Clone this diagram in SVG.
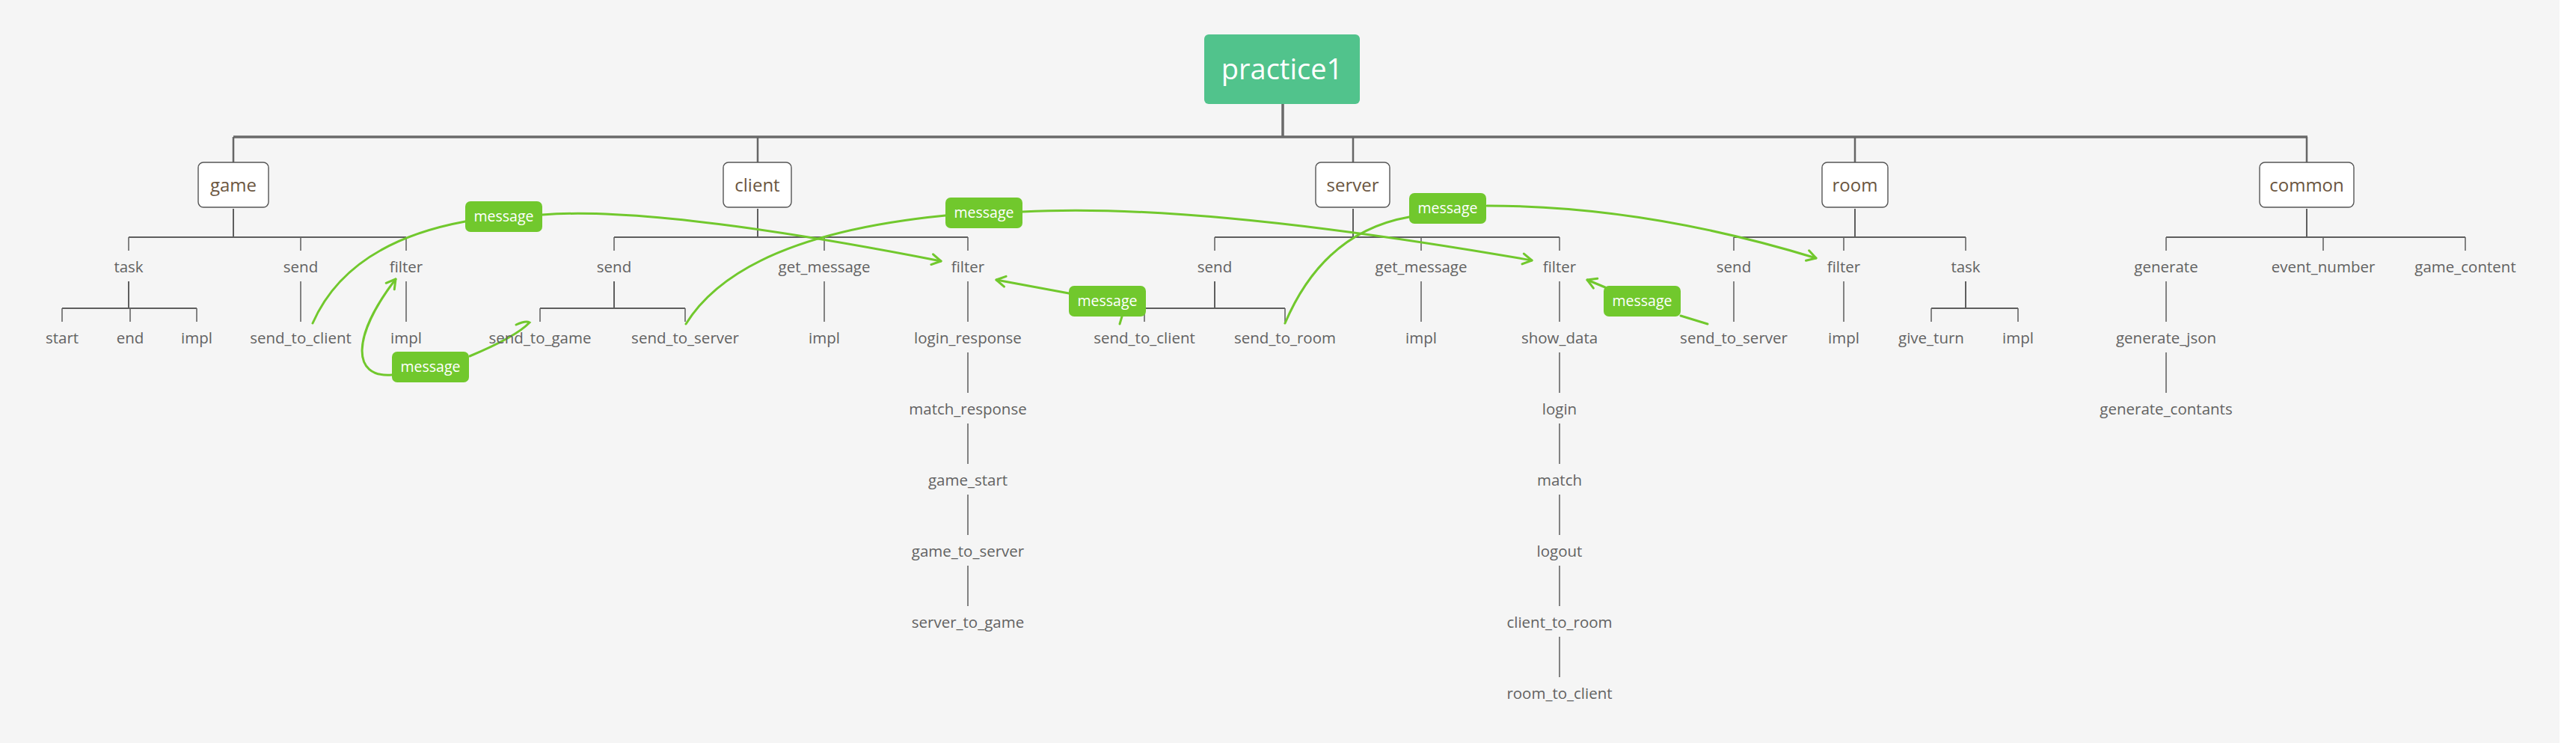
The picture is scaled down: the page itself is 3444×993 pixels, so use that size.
<svg xmlns="http://www.w3.org/2000/svg" width="3444" height="993" viewBox="0 0 3444 993">
<style>
.bg{fill:#f5f5f5}
.root{fill:#51c38c}
.rootT{font-family:"Open Sans","Noto Sans",sans-serif;font-size:38px;fill:#ffffff;text-anchor:middle}
.box{fill:#ffffff;stroke:#555555;stroke-width:1.4}
.boxT{font-family:"Open Sans","Noto Sans",sans-serif;font-size:24px;fill:#6b5641;text-anchor:middle}
.leaf{font-family:"Open Sans","Noto Sans",sans-serif;font-size:20.5px;fill:#626262;text-anchor:middle}
.t0{fill:none;stroke:#6a6a6a;stroke-width:3.5}
.t1{fill:none;stroke:#666666;stroke-width:2.5}
.t2{fill:none;stroke:#5e5e5e;stroke-width:2}
.t3{fill:none;stroke:#666666;stroke-width:1.6}
.rel{fill:none;stroke:#71c82d;stroke-width:3;stroke-linecap:round}
.lbl{fill:#71c82d}
.lblT{font-family:"Open Sans","Noto Sans",sans-serif;font-size:19.5px;fill:#ffffff;text-anchor:middle}
</style>
<defs>
<marker id="arr" markerUnits="userSpaceOnUse" viewBox="0 0 18 18" markerWidth="18" markerHeight="18" refX="14" refY="9" orient="auto">
<path d="M2,2 L14,9 L2,16" fill="none" stroke="#71c82d" stroke-width="3" stroke-linecap="round" stroke-linejoin="round"/>
</marker>
</defs>
<rect x="0" y="0" width="3444" height="993" fill="#ffffff"/>
<rect class="bg" x="0" y="0" width="3422" height="993"/>

<g id="connectors">
<path class="t0" d="M312 183 H3085 M1715 139 V183"/>
<path class="t1" d="M312 183 V217 M1013 183 V217 M1809 183 V217 M2480 183 V217 M3084 183 V217"/>
<path class="t2" d="M312 279 V317 M1013 279 V317 M1809 279 V317 M2480 279 V317 M3084 279 V317"/>
<path class="t2" d="M172 317 H543 M821 317 H1294 M1624 317 H2085 M2318 317 H2628 M2896 317 H3296"/>
<path class="t3" d="M172 317 V335 M402 317 V335 M543 317 V335 M821 317 V335 M1102 317 V335 M1294 317 V335 M1624 317 V335 M1900 317 V335 M2085 317 V335 M2318 317 V335 M2465 317 V335 M2628 317 V335 M2896 317 V335 M3106 317 V335 M3296 317 V335"/>
<path class="t2" d="M172 376 V412 M83 412 H263 M821 376 V412 M722 412 H916 M1624 376 V412 M1530 412 H1718 M2628 376 V412 M2582 412 H2698"/>
<path class="t3" d="M83 412 V430 M174 412 V430 M263 412 V430 M722 412 V430 M916 412 V430 M1530 412 V430 M1718 412 V430 M2582 412 V430 M2698 412 V430"/>
<path class="t3" d="M402 376 V430 M543 376 V430 M1102 376 V430 M1900 376 V430 M2318 376 V430 M2465 376 V430 M2896 376 V430 M2896 471 V525"/>
<path class="t3" d="M1294 376 V430 M1294 471 V525 M1294 566 V620 M1294 661 V715 M1294 756 V810"/>
<path class="t3" d="M2085 376 V430 M2085 471 V525 M2085 566 V620 M2085 661 V715 M2085 756 V810 M2085 851 V905"/>

<g id="relationships">
<path class="rel" d="M418 432 Q465 325 622 296"/>
<path class="rel" d="M725 287 Q880 275 1258 349" marker-end="url(#arr)"/>
<path class="rel" d="M917 433 Q990 315 1264 288"/>
<path class="rel" d="M1367 283 Q1600 270 2048 348" marker-end="url(#arr)"/>
<path class="rel" d="M1497 433 L1500 423"/>
<path class="rel" d="M1429 392 L1332 374" marker-end="url(#arr)"/>
<path class="rel" d="M1718 432 Q1770 310 1884 290"/>
<path class="rel" d="M1988 275 Q2200 275 2428 345" marker-end="url(#arr)"/>
<path class="rel" d="M2283 433 L2247 422"/>
<path class="rel" d="M2146 384 L2122 374" marker-end="url(#arr)"/>
<path class="rel" d="M628 476 Q690 450 708 431 Q703 428 690 434"/>
<path class="rel" d="M524 501 C470 505 470 450 529 373" marker-end="url(#arr)"/>
<g id="label-1"><rect class="lbl" x="622" y="269" width="103" height="41" rx="7"/><text class="lblT" x="673.5" y="296">message</text></g>
<g id="label-2"><rect class="lbl" x="524" y="470" width="103" height="41" rx="7"/><text class="lblT" x="575.5" y="497">message</text></g>
<g id="label-3"><rect class="lbl" x="1264" y="264" width="103" height="41" rx="7"/><text class="lblT" x="1315.5" y="291">message</text></g>
<g id="label-4"><rect class="lbl" x="1429" y="382" width="103" height="41" rx="7"/><text class="lblT" x="1480.5" y="409">message</text></g>
<g id="label-5"><rect class="lbl" x="1884" y="258" width="103" height="41" rx="7"/><text class="lblT" x="1935.5" y="285">message</text></g>
<g id="label-6"><rect class="lbl" x="2144" y="382" width="103" height="41" rx="7"/><text class="lblT" x="2195.5" y="409">message</text></g>
</g>
</g>

<g id="practice1"><rect class="root" x="1610" y="46" width="208" height="93" rx="6"/><text class="rootT" x="1714" y="106">practice1</text></g>

<g id="game"><rect class="box" x="265" y="217" width="94" height="60" rx="7"/><text class="boxT" x="312" y="256">game</text></g>
<g id="client"><rect class="box" x="967" y="217" width="91" height="60" rx="7"/><text class="boxT" x="1012.5" y="256">client</text></g>
<g id="server"><rect class="box" x="1759" y="217" width="99" height="60" rx="7"/><text class="boxT" x="1808.5" y="256">server</text></g>
<g id="room"><rect class="box" x="2436" y="217" width="88" height="60" rx="7"/><text class="boxT" x="2480" y="256">room</text></g>
<g id="common"><rect class="box" x="3021" y="217" width="126" height="60" rx="7"/><text class="boxT" x="3084" y="256">common</text></g>

<g id="game-task"><text class="leaf" x="172" y="364">task</text></g>
<g id="game-send"><text class="leaf" x="402" y="364">send</text></g>
<g id="game-filter"><text class="leaf" x="543" y="364">filter</text></g>
<g id="game-task-start"><text class="leaf" x="83" y="459">start</text></g>
<g id="game-task-end"><text class="leaf" x="174" y="459">end</text></g>
<g id="game-task-impl"><text class="leaf" x="263" y="459">impl</text></g>
<g id="game-send_to_client"><text class="leaf" x="402" y="459">send_to_client</text></g>
<g id="game-filter-impl"><text class="leaf" x="543" y="459">impl</text></g>

<g id="client-send"><text class="leaf" x="821" y="364">send</text></g>
<g id="client-get_message"><text class="leaf" x="1102" y="364">get_message</text></g>
<g id="client-filter"><text class="leaf" x="1294" y="364">filter</text></g>
<g id="client-send_to_game"><text class="leaf" x="722" y="459">send_to_game</text></g>
<g id="client-send_to_server"><text class="leaf" x="916" y="459">send_to_server</text></g>
<g id="client-get_message-impl"><text class="leaf" x="1102" y="459">impl</text></g>
<g id="client-login_response"><text class="leaf" x="1294" y="459">login_response</text></g>
<g id="client-match_response"><text class="leaf" x="1294" y="554">match_response</text></g>
<g id="client-game_start"><text class="leaf" x="1294" y="649">game_start</text></g>
<g id="client-game_to_server"><text class="leaf" x="1294" y="744">game_to_server</text></g>
<g id="client-server_to_game"><text class="leaf" x="1294" y="839">server_to_game</text></g>

<g id="server-send"><text class="leaf" x="1624" y="364">send</text></g>
<g id="server-get_message"><text class="leaf" x="1900" y="364">get_message</text></g>
<g id="server-filter"><text class="leaf" x="2085" y="364">filter</text></g>
<g id="server-send_to_client"><text class="leaf" x="1530" y="459">send_to_client</text></g>
<g id="server-send_to_room"><text class="leaf" x="1718" y="459">send_to_room</text></g>
<g id="server-get_message-impl"><text class="leaf" x="1900" y="459">impl</text></g>
<g id="server-show_data"><text class="leaf" x="2085" y="459">show_data</text></g>
<g id="server-login"><text class="leaf" x="2085" y="554">login</text></g>
<g id="server-match"><text class="leaf" x="2085" y="649">match</text></g>
<g id="server-logout"><text class="leaf" x="2085" y="744">logout</text></g>
<g id="server-client_to_room"><text class="leaf" x="2085" y="839">client_to_room</text></g>
<g id="server-room_to_client"><text class="leaf" x="2085" y="934">room_to_client</text></g>

<g id="room-send"><text class="leaf" x="2318" y="364">send</text></g>
<g id="room-filter"><text class="leaf" x="2465" y="364">filter</text></g>
<g id="room-task"><text class="leaf" x="2628" y="364">task</text></g>
<g id="room-send_to_server"><text class="leaf" x="2318" y="459">send_to_server</text></g>
<g id="room-filter-impl"><text class="leaf" x="2465" y="459">impl</text></g>
<g id="room-give_turn"><text class="leaf" x="2582" y="459">give_turn</text></g>
<g id="room-task-impl"><text class="leaf" x="2698" y="459">impl</text></g>

<g id="common-generate"><text class="leaf" x="2896" y="364">generate</text></g>
<g id="common-event_number"><text class="leaf" x="3106" y="364">event_number</text></g>
<g id="common-game_content"><text class="leaf" x="3296" y="364">game_content</text></g>
<g id="common-generate_json"><text class="leaf" x="2896" y="459">generate_json</text></g>
<g id="common-generate_contants"><text class="leaf" x="2896" y="554">generate_contants</text></g>
</svg>
